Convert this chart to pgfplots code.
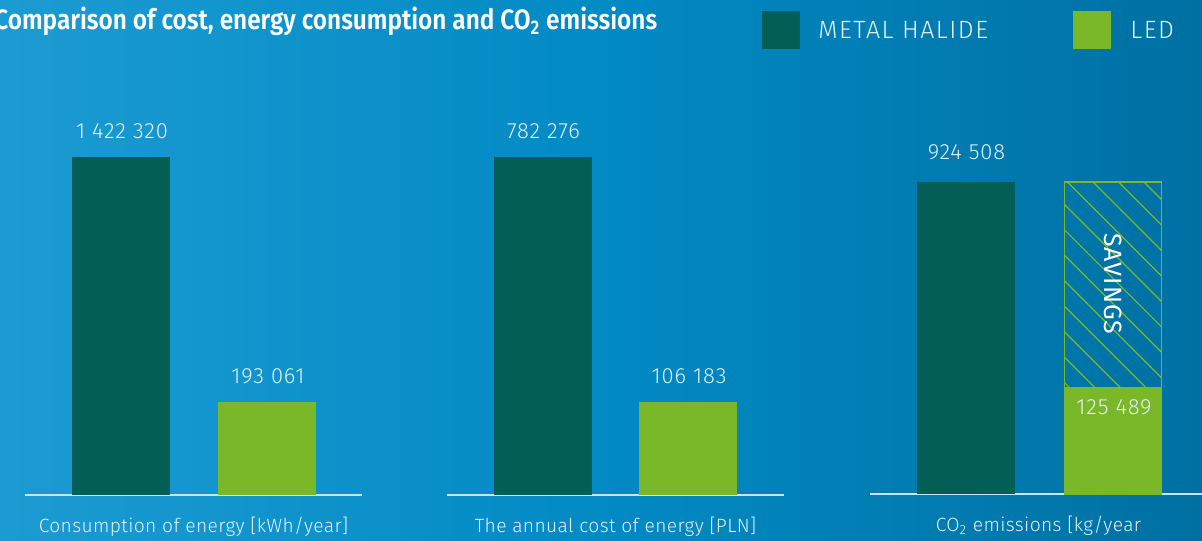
\documentclass[border=0pt]{standalone}
\usepackage{fontspec}
\setmainfont{Fira Sans}
\newfontfamily\lightfont{Fira Sans Light}[LetterSpace=2]
\newfontfamily\numfont{Fira Sans Light}[LetterSpace=4]
\newfontfamily\legfont{Fira Sans Light}[LetterSpace=6]
\newfontfamily\savfont{Fira Sans}[LetterSpace=4]
\newfontfamily\boldfont{Fira Sans SemiBold}
\usepackage{graphicx}
\usepackage{pgfplots}
\pgfplotsset{compat=1.18}
\usetikzlibrary{patterns.meta}
\definecolor{bgL}{RGB}{28,155,210}
\definecolor{bgM}{RGB}{2,138,196}
\definecolor{bgR}{RGB}{0,112,162}
\definecolor{mh}{RGB}{3,94,85}
\definecolor{led}{RGB}{122,184,41}
\definecolor{txt}{RGB}{228,242,248}
\definecolor{lineclr}{RGB}{200,228,240}
\pgfplotsset{
  panel/.style={
    scale only axis, width=168.5pt, height=200pt,
    xmin=0, xmax=337, ymin=0, ymax=400,
    axis x line=bottom, axis y line=none,
    axis line style={draw=lineclr, line width=1pt, -},
    xtick=\empty, ytick=\empty, clip=false,
    xlabel style={font=\lightfont\fontsize{9.6}{12}\selectfont, text=txt,
      at={(axis description cs:0.5,0)}, anchor=base, yshift=-18.5pt},
  },
  bar/.style={ybar, bar width=98, bar shift=0pt, draw=none},
  lab/.style={nodes near coords, point meta=explicit symbolic,
    nodes near coords style={font=\numfont\fontsize{11}{13}\selectfont, text=txt,
      anchor=base, inner sep=0pt, xshift=0.5pt, yshift=#1}},
}
\begin{document}
\begin{tikzpicture}[x=0.5pt,y=0.5pt]
\useasboundingbox (0,0) rectangle (1202,540);
\clip (0,0) rectangle (1202,540);
\shade[left color=bgL, right color=bgR, middle color=bgM] (0,0) rectangle (1202,540);
\node[anchor=base west, text=white, inner sep=0pt] at (-6,510)
  {\boldfont\fontsize{14}{16}\selectfont\scalebox{0.87}[1]{Comparison of cost, energy consumption and CO\textsubscript{2} emissions}};
% legend
\fill[mh] (762,491) rectangle (800,529);
\node[anchor=base west, text=txt, inner sep=0pt] at (818,501) {\legfont\fontsize{12.5}{14}\selectfont METAL HALIDE};
\fill[led] (1073,491) rectangle (1111,529);
\node[anchor=base west, text=txt, inner sep=0pt] at (1130,501) {\legfont\fontsize{12.5}{14}\selectfont LED};

% panel 1
\begin{axis}[panel, at={(25,45)}, xlabel={Consumption of energy [kWh/year]}]
\addplot[bar, fill=mh, lab=9pt] coordinates {(96,338) [1 422 320]};
\addplot[bar, fill=led, lab=9pt] coordinates {(242,93) [193 061]};
\end{axis}
% panel 2
\begin{axis}[panel, at={(447,45)}, xlabel={The annual cost of energy [PLN]}]
\addplot[bar, fill=mh, lab=9pt] coordinates {(95.5,338) [782 276]};
\addplot[bar, fill=led, lab=9pt] coordinates {(241,93) [106 183]};
\end{axis}
% panel 3
\begin{axis}[panel, at={(870,46)}, xlabel={CO\textsubscript{2} emissions [kg/year}]
\addplot[bar, fill=mh, lab=11pt] coordinates {(95.5,312) [924 508]};
\addplot[ybar, bar width=97, bar shift=0pt, draw=led, line width=0.6pt,
  pattern={Lines[angle=-45, distance=9pt, line width=0.6pt]}, pattern color=led]
  coordinates {(243,312)};
\addplot[bar, fill=led, lab=-14pt] coordinates {(243,107) [125 489]};
\node[rotate=-90, text=white, inner sep=0pt] at (axis cs:243,210)
  {\savfont\fontsize{12.5}{14}\selectfont SAVINGS};
\end{axis}
\end{tikzpicture}
\end{document}
